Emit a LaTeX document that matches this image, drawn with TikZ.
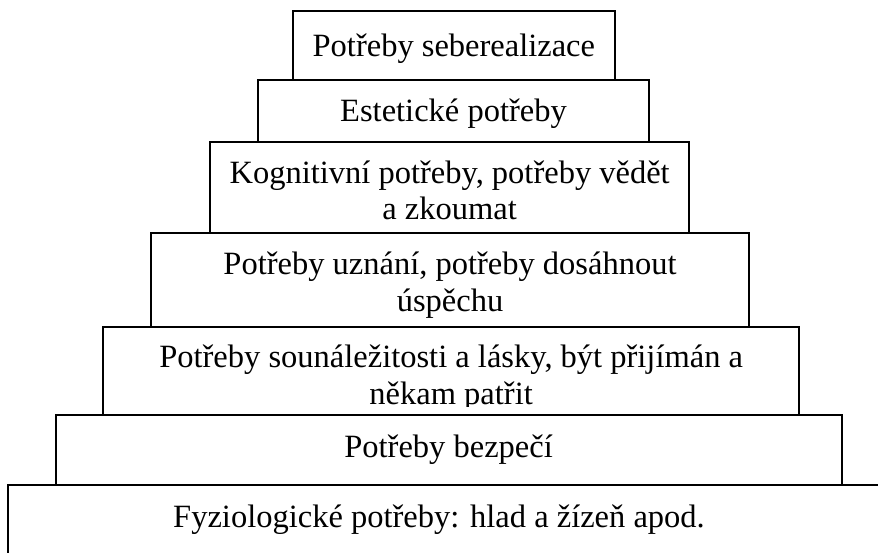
\documentclass[tikz,border=0pt]{standalone}
\usepackage{fontspec}
\setmainfont{Liberation Serif}
\usepackage{tikz}
\usetikzlibrary{positioning}

\begin{document}
\begin{tikzpicture}[x=1pt,y=-1pt,
    tier/.style={draw, line width=2pt, inner sep=0pt},
    words/.style={align=center, inner sep=0pt,
                  font=\fontsize{32.5pt}{36.5pt}\selectfont},
    frame/.style={line width=2pt}]
  \useasboundingbox (0,0) rectangle (878,553);
  \clip (0,0) rectangle (878,553);
  % frames of the tiers, top down
  \node[tier, minimum width=322.3pt, minimum height=69.3pt] (sebe)  at (453.85,45.65) {};
  \node[tier, minimum width=391.6pt, minimum height=61.4pt] (estet) at (453.5,111) {};
  \node[tier, minimum width=479.3pt, minimum height=91.6pt] (kogn)  at (449.65,187.5) {};
  \node[tier, minimum width=598.6pt, minimum height=94pt]   (uzn)   at (450,280.3) {};
  \node[tier, minimum width=696.3pt, minimum height=87.7pt] (soun)  at (451.15,371.15) {};
  \node[tier, minimum width=785.8pt, minimum height=70.3pt] (bezp)  at (448.6,450.15) {};
  % base, runs off the page
  \draw[frame] (8,570) |- (900,485.3);
  % texts
  \node[words] (sebe-t)  at ([yshift=-3pt]sebe.center)  {Potřeby seberealizace};
  \node[words] (estet-t) at ([yshift=-3pt]estet.center) {Estetické potřeby};
  \node[words] (kogn-t)  at ([yshift=-3pt]kogn.center)  {Kognitivní potřeby, potřeby vědět\\a zkoumat};
  \node[words] (uzn-t)   at ([yshift=-5pt]uzn.center)   {Potřeby uznání, potřeby dosáhnout\\úspěchu};
  \begin{scope}
    % last line is cut off
    \clip (soun.north west) rectangle ([yshift=10pt]soun.south east);
    \node[words] (soun-t) at ([yshift=-7pt]soun.center)
         {Potřeby sounáležitosti a lásky, být přijímán a\\někam patřit};
  \end{scope}
  \node[words] (bezp-t)  at (bezp.center) {Potřeby bezpečí};
  \node[words] (fyzio-t) at (439,520) {Fyziologické potřeby: hlad a žízeň apod.};
\end{tikzpicture}
\end{document}
